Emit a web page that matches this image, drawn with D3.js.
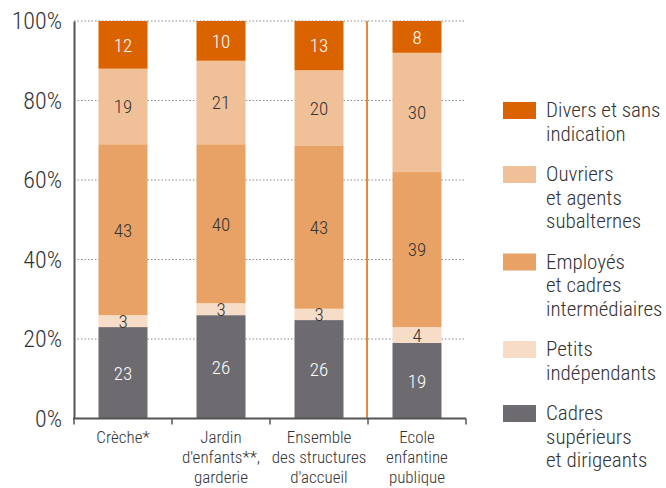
<!DOCTYPE html>
<html><head><meta charset="utf-8">
<script src="https://cdn.jsdelivr.net/npm/d3@7"></script>
<style>
html,body{margin:0;padding:0;background:#fff;}
svg text{font-family:"Roboto Condensed",sans-serif;font-weight:300;}
</style></head>
<body>
<svg id="chart" width="666" height="488"></svg>
<script>
const categories = [["Crèche*"], ["Jardin","d'enfants**,","garderie"], ["Ensemble","des structures","d'accueil"], ["Ecole","enfantine","publique"]];
const seriesNames = ["Cadres supérieurs et dirigeants","Petits indépendants","Employés et cadres intermédiaires","Ouvriers et agents subalternes","Divers et sans indication"];
const legendLines = [["Divers et sans","indication"],["Ouvriers","et agents","subalternes"],["Employés","et cadres","intermédiaires"],["Petits","indépendants"],["Cadres","supérieurs","et dirigeants"]];
const cadres   = [23, 26, 26, 19];
const petits   = [3, 3, 3, 4];
const employes = [43, 40, 43, 39];
const ouvriers = [19, 21, 20, 30];
const divers   = [12, 10, 13, 8];
const yTicks = [0, 20, 40, 60, 80, 100];
const colors = ["#6e6b70", "#f7dcc8", "#e9a266", "#f0c099", "#da6300"];
const labelColors = ["#fff", "#333", "#333", "#333", "#fff"];

const svg = d3.select("#chart");
const pLeft = 74, pRight = 466, pTop = 21, pBottom = 418.5;
const x = d3.scaleBand().domain(d3.range(categories.length)).range([pLeft, pRight]).paddingInner(0.5).paddingOuter(0.25);
const xb = d3.scaleBand().domain(d3.range(categories.length)).range([pLeft, pRight]);
const y = d3.scaleLinear().domain([0, 100]).range([pBottom, pTop]);

const table = categories.map((c, i) => ({i, s0: cadres[i], s1: petits[i], s2: employes[i], s3: ouvriers[i], s4: divers[i]}));
const keys = ["s0","s1","s2","s3","s4"];
const stacked = d3.stack().keys(keys).offset(d3.stackOffsetExpand)(table);

// gridlines
svg.append("g").selectAll("line").data(yTicks.filter(t => t > 0)).join("line")
  .attr("x1", pLeft).attr("x2", pRight).attr("y1", d => y(d)).attr("y2", d => y(d))
  .attr("stroke", "#888").attr("stroke-width", 1).attr("stroke-dasharray", "1.5,2");

// bars
const layers = svg.append("g").selectAll("g").data(stacked).join("g").attr("fill", (d, k) => colors[k]);
layers.selectAll("rect").data(d => d).join("rect")
  .attr("x", d => x(d.data.i)).attr("width", x.bandwidth())
  .attr("y", d => y(d[1] * 100)).attr("height", d => y(d[0] * 100) - y(d[1] * 100));

// labels
stacked.forEach((layer, k) => {
  svg.append("g").selectAll("text").data(layer).join("text")
    .attr("x", d => x(d.data.i) + x.bandwidth() / 2)
    .attr("y", d => y((d[0] + d[1]) / 2 * 100))
    .attr("dy", "0.36em").attr("text-anchor", "middle")
    .attr("font-size", 19).attr("fill", labelColors[k])
    .text(d => d.data[keys[k]]);
});

// separator line
svg.append("line").attr("x1", xb(3) - 1).attr("x2", xb(3) - 1).attr("y1", pTop).attr("y2", pBottom)
  .attr("stroke", "#da6300").attr("stroke-width", 1.5);

// y axis
const yAxis = svg.append("g").attr("transform", `translate(${pLeft},0)`)
  .call(d3.axisLeft(y).tickValues(yTicks).tickFormat(d => d + "%").tickSize(0).tickPadding(12));
yAxis.select(".domain").attr("stroke", "#555").attr("stroke-width", 2);
yAxis.selectAll("text").attr("font-size", 24).attr("fill", "#333");
yAxis.attr("font-family", null);

// x axis
const xAxis = svg.append("g").attr("transform", `translate(0,${pBottom})`);
xAxis.append("line").attr("x1", pLeft - 1).attr("x2", pRight).attr("stroke", "#555").attr("stroke-width", 2);
xAxis.selectAll(".tk").data(d3.range(categories.length + 1)).join("line").attr("class", "tk")
  .attr("x1", i => pLeft + i * xb.bandwidth()).attr("x2", i => pLeft + i * xb.bandwidth())
  .attr("y1", 0).attr("y2", 6).attr("stroke", "#555").attr("stroke-width", 1.5);
const xl = xAxis.selectAll(".cl").data(categories).join("text").attr("class", "cl")
  .attr("text-anchor", "middle").attr("font-size", 17).attr("fill", "#333")
  .attr("transform", (d, i) => `translate(${xb(i) + xb.bandwidth() / 2},24)`);
xl.selectAll("tspan").data(d => d).join("tspan").attr("x", 0).attr("dy", (d, j) => j === 0 ? 0 : 20).text(d => d);

// legend
const legColors = [colors[4], colors[3], colors[2], colors[1], colors[0]];
let ly = 102;
legendLines.forEach((lines, k) => {
  const g = svg.append("g").attr("transform", `translate(503,${ly})`);
  g.append("rect").attr("width", 33).attr("height", 17).attr("fill", legColors[k]);
  const t = g.append("text").attr("x", 43).attr("y", 15).attr("font-size", 21).attr("fill", "#333");
  t.selectAll("tspan").data(lines).join("tspan").attr("x", 43).attr("dy", (d, j) => j === 0 ? 0 : 23.5).text(d => d);
  ly += lines.length * 23.5 + 17;
});
</script>
</body></html>
